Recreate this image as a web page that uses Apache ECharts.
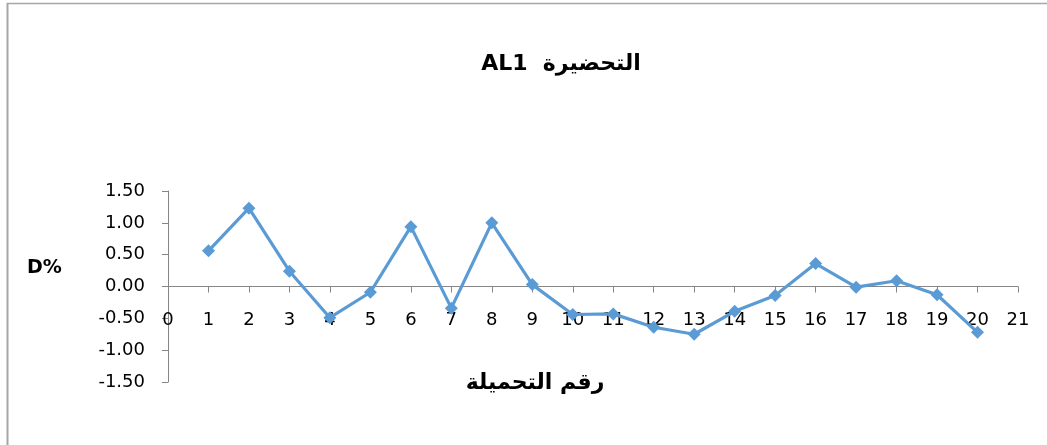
<!DOCTYPE html>
<html>
<head>
<meta charset="utf-8">
<script src="https://cdn.jsdelivr.net/npm/echarts@6/dist/echarts.min.js"></script>
<style>
  html, body { margin: 0; padding: 0; background: #ffffff; }
  #chart { width: 1047px; height: 445px; }
</style>
</head>
<body>
<div id="chart"></div>
<script>
// Load number (x) and deviation D% (y) for preparation AL1
const loadNumbers = [1, 2, 3, 4, 5, 6, 7, 8, 9, 10, 11, 12, 13, 14, 15, 16, 17, 18, 19, 20];
const deviations = [0.56, 1.23, 0.24, -0.49, -0.09, 0.94, -0.34, 1.00, 0.03, -0.44,
                    -0.43, -0.64, -0.75, -0.39, -0.14, 0.36, -0.01, 0.09, -0.13, -0.72];
const titleText = 'AL1  التحضيرة';
const xAxisTitle = 'رقم التحميلة';
const yAxisTitle = 'D%';

const FONT = '"DejaVu Sans", "Open Sans", sans-serif';
const AXIS_GREY = '#868686';
const LINE_BLUE = '#5B9BD5';

const GRID_TOP = 191, GRID_BOTTOM = 63, CHART_H = 445;
const Y_MIN = -1.5, Y_MAX = 1.5;
// distance from the grid bottom up to the y = 0 line, so the x axis sits on zero
const plotH = CHART_H - GRID_TOP - GRID_BOTTOM;
const zeroLift = plotH * (0 - Y_MIN) / (Y_MAX - Y_MIN);

const chart = echarts.init(document.getElementById('chart'), null, { renderer: 'canvas' });

chart.setOption({
  backgroundColor: '#ffffff',
  animation: false,
  title: {
    text: titleText,
    left: 556, top: 48,
    textAlign: 'center',
    textStyle: { fontFamily: FONT, fontSize: 22, fontWeight: 'bold', color: '#000000' }
  },
  grid: { left: 168, right: 29, top: GRID_TOP, bottom: GRID_BOTTOM, containLabel: false },
  xAxis: {
    type: 'value',
    min: 0, max: 21, interval: 1,
    offset: -zeroLift,
    axisLine: { onZero: false, lineStyle: { color: AXIS_GREY, width: 1 } },
    axisTick: { show: true, length: 6, inside: false, lineStyle: { color: AXIS_GREY } },
    axisLabel: { margin: 25, fontFamily: FONT, fontSize: 18, color: '#000000', showMinLabel: true, showMaxLabel: true },
    splitLine: { show: false }
  },
  yAxis: {
    type: 'value',
    min: Y_MIN, max: Y_MAX, interval: 0.5,
    axisLine: { show: true, lineStyle: { color: AXIS_GREY, width: 1 } },
    axisTick: { show: true, length: 6, lineStyle: { color: AXIS_GREY } },
    axisLabel: {
      margin: 23, fontFamily: FONT, fontSize: 18, color: '#000000',
      formatter: v => v.toFixed(2)
    },
    splitLine: { show: false }
  },
  graphic: [
    // chart frame (left and top edges)
    { type: 'line', shape: { x1: 7.5, y1: 3, x2: 7.5, y2: 445 }, style: { stroke: '#a6a6a6', lineWidth: 2 } },
    { type: 'line', shape: { x1: 7, y1: 3.5, x2: 1047, y2: 3.5 }, style: { stroke: '#a6a6a6', lineWidth: 1.5 } },
    {
      type: 'text', left: 27, top: 259,
      style: { text: yAxisTitle, font: 'bold 19px ' + FONT, fill: '#000000' }
    },
    {
      type: 'text', x: 535, y: 383,
      style: { text: xAxisTitle, font: 'bold 22px ' + FONT, fill: '#000000', align: 'center', verticalAlign: 'middle' }
    }
  ],
  series: [{
    type: 'line',
    data: loadNumbers.map((n, i) => [n, deviations[i]]),
    symbol: 'diamond',
    symbolSize: 13,
    lineStyle: { color: LINE_BLUE, width: 3.2 },
    itemStyle: { color: LINE_BLUE },
    z: 3
  }]
});
</script>
</body>
</html>
